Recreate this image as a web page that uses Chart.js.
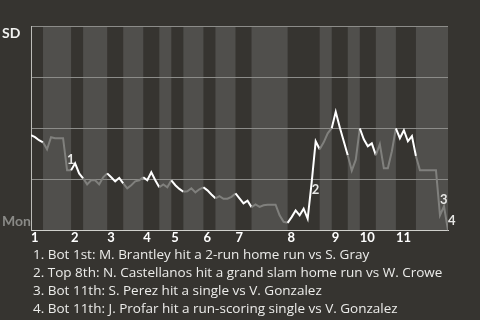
<!DOCTYPE html>
<html>
<head>
<meta charset="utf-8">
<script src="https://cdn.jsdelivr.net/npm/chart.js@4.4.0/dist/chart.umd.min.js"></script>
<style>
  html, body { margin: 0; padding: 0; background: #363430; }
  .container { position: relative; width: 480px; height: 320px; overflow: hidden; }
  .chart-box { position: absolute; left: 0; top: 0; width: 480px; height: 246px; }
  .notes { position: absolute; left: 33px; top: 245px; color: #ececea; font: 13.5px "Open Sans", sans-serif; line-height: 18px; white-space: nowrap; }
</style>
</head>
<body>
<div class="container">
  <div class="chart-box"><canvas id="chart"></canvas></div>
  <div class="notes"></div>
</div>
<script>
// play index where each half inning ends (top 1st, bot 1st, top 2nd ...)
const halfInningBounds = [0, 3, 10, 13, 19, 23, 28, 32, 35, 38, 43, 46, 51, 55, 64, 72, 75, 79, 82, 86, 91, 96, 104];
const innings = ['1', '2', '3', '4', '5', '6', '7', '8', '9', '10', '11'];
const teams = ['SD', 'Mon'];

// SD win probability (%) after each play
const winProb = [
  46.6, 45.6, 44.1, 43.1, 39.7, 45.6, 45.1, 45.1, 45.1, 29.4,
  29.4, 32.8, 27.9, 25.5, 22.5, 24.5, 24.5, 22.5, 26.0, 27.9,
  26.0, 24.0, 25.7, 23.0, 20.6, 22.1, 24.0, 24.5, 26.0, 24.5,
  28.4, 24.5, 21.1, 22.5, 21.1, 24.5, 22.1, 20.3, 18.9, 19.1,
  20.6, 18.6, 20.1, 21.1, 19.6, 17.6, 15.7, 16.8, 15.5, 15.5,
  16.4, 18.1, 15.7, 13.2, 14.5, 11.4, 12.7, 11.5, 12.3, 12.6,
  12.6, 12.6, 7.4, 4.2, 3.7, 6.5, 9.8, 7.4, 10.6, 5.7,
  23.5, 43.6, 39.7, 43.1, 47.5, 50.0, 58.0, 50.5, 43.6, 36.8,
  29.2, 34.6, 49.9, 44.6, 41.2, 42.6, 36.8, 42.2, 30.4, 30.4,
  38.7, 49.9, 45.1, 49.0, 43.6, 46.1, 36.4, 29.4, 29.4, 29.4,
  29.4, 29.4, 7.4, 11.8, 0
];

const eventPlays = [9, 70, 102, 104];
const eventNotes = [
  'Bot 1st: M. Brantley hit a 2-run home run vs S. Gray',
  'Top 8th: N. Castellanos hit a grand slam home run vs W. Crowe',
  'Bot 11th: S. Perez hit a single vs V. Gonzalez',
  'Bot 11th: J. Profar hit a run-scoring single vs V. Gonzalez'
];

const FONT = 'Lato, sans-serif';
const bandLight = '#504f4c';
const lineTop = '#ffffff';
const lineBottom = '#80807d';
const markerDy = [-10, 7, -15, -10];

const halfOf = (x) => {
  for (let i = 1; i < halfInningBounds.length; i++) {
    if (x <= halfInningBounds[i]) return i - 1;
  }
  return halfInningBounds.length - 2;
};

const notes = document.querySelector('.notes');
eventNotes.forEach((text, i) => {
  const p = document.createElement('div');
  p.textContent = `${i + 1}. ${text}`;
  notes.append(p);
});

const bands = {
  id: 'bands',
  beforeDraw(chart) {
    const { ctx, chartArea, scales } = chart;
    ctx.save();
    ctx.fillStyle = bandLight;
    for (let i = 1; i < halfInningBounds.length - 1; i += 2) {
      const x0 = scales.x.getPixelForValue(halfInningBounds[i]);
      const x1 = scales.x.getPixelForValue(halfInningBounds[i + 1]);
      ctx.fillRect(x0, chartArea.top, x1 - x0, chartArea.bottom - chartArea.top);
    }
    ctx.restore();
  }
};

const labels = {
  id: 'labels',
  afterDatasetsDraw(chart) {
    const { ctx, scales } = chart;
    ctx.save();
    ctx.font = `bold 14px ${FONT}`;
    ctx.textAlign = 'left';
    ctx.textBaseline = 'alphabetic';
    ctx.fillStyle = '#f2f2f0';
    ctx.fillText(teams[0], 2, scales.y.getPixelForValue(100) + 12);
    ctx.fillStyle = '#8a8a87';
    ctx.fillText(teams[1], 2, scales.y.getPixelForValue(0) - 4);

    ctx.font = `bold 13px ${FONT}`;
    ctx.textBaseline = 'middle';
    ctx.fillStyle = '#e6e6e4';
    eventPlays.forEach((play, i) => {
      const px = scales.x.getPixelForValue(play);
      const py = scales.y.getPixelForValue(winProb[play]);
      ctx.fillText(String(i + 1), px, py + markerDy[i]);
    });
    ctx.restore();
  }
};

new Chart(document.getElementById('chart'), {
  type: 'line',
  data: {
    datasets: [{
      data: winProb.map((v, i) => ({ x: i, y: v })),
      borderWidth: 2,
      pointRadius: 0,
      tension: 0,
      segment: {
        borderColor: (ctx) => (halfOf(ctx.p1.parsed.x) % 2 === 0 ? lineTop : lineBottom)
      }
    }]
  },
  options: {
    responsive: true,
    maintainAspectRatio: false,
    animation: false,
    layout: { padding: { left: 31, right: 32, top: 26, bottom: 0 } },
    plugins: { legend: { display: false }, tooltip: { enabled: false } },
    scales: {
      x: {
        type: 'linear',
        min: 0,
        max: halfInningBounds[halfInningBounds.length - 1],
        afterBuildTicks: (scale) => {
          scale.ticks = halfInningBounds.filter((b, i) => i % 2 === 0 && i < halfInningBounds.length - 1)
            .map((v) => ({ value: v }));
        },
        grid: { display: false, drawTicks: false },
        border: { display: true, color: '#d0d0cc', width: 1 },
        ticks: {
          autoSkip: false,
          maxRotation: 0,
          align: 'start',
          padding: 0,
          color: '#ffffff',
          font: { family: FONT, size: 13, weight: 'bold' },
          callback: (value, index) => innings[index]
        }
      },
      y: {
        min: 0,
        max: 100,
        ticks: { display: false, stepSize: 25 },
        grid: { color: '#8c8c89', drawTicks: false },
        border: { display: true, color: '#bdbdb9', width: 1 }
      }
    }
  },
  plugins: [bands, labels]
});
</script>
</body>
</html>
